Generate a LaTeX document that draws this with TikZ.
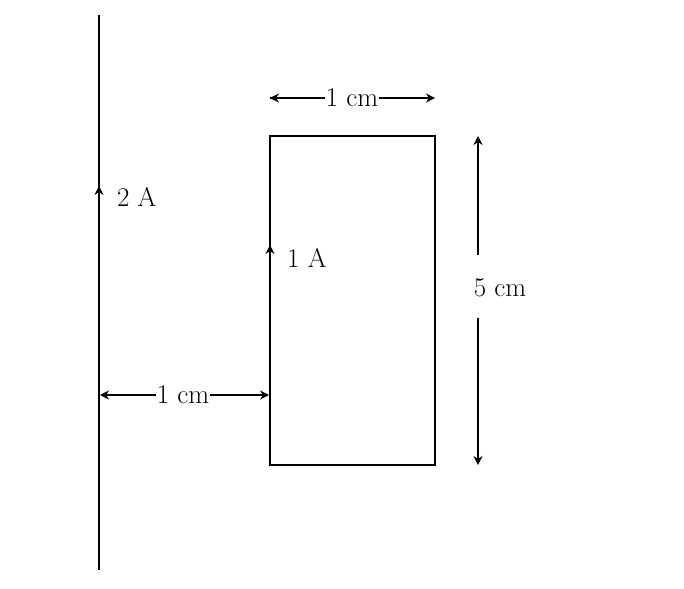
\documentclass[tikz,border=0pt]{standalone}
\usetikzlibrary{arrows.meta}
\begin{document}
\begin{tikzpicture}[x=1pt,y=-1pt,
  wire/.style={line width=2.2pt},
  dim/.style={line width=1.8pt,{Stealth[length=9pt,width=9pt,inset=0pt,open]}-{Stealth[length=9pt,width=9pt,inset=0pt,open]}},
  cur/.style={line width=1.8pt,-{Stealth[length=9pt,width=9pt,open]}},
  lbl/.style={font=\fontsize{27}{30}\selectfont, inner sep=1pt}]
\useasboundingbox (0,0) rectangle (684,588);
\coordinate (wt) at (99,15);
\coordinate (wb) at (99,570);
\draw[wire] (wb) -- (wt);
\coordinate (r1) at (270,136);
\coordinate (r2) at (435,465);
\draw[line width=2pt] (r1) rectangle (r2);
% current arrows
\coordinate (a1) at (99,205); \coordinate (a2) at (99,186);
\draw[cur] (a1) -- (a2);
\node[lbl,anchor=west] (l2a) at (116,197) {2 A};
\coordinate (b1) at (270,264); \coordinate (b2) at (270,245);
\draw[cur] (b1) -- (b2);
\node[lbl,anchor=west] (l1a) at (286,258) {1 A};
% top dimension
\node[lbl] (top) at (352,98) {1 cm};
\coordinate (tl) at (270,98); \coordinate (tr) at (435,98);
\draw[dim,-{}] (top.west) -- (tl);
\draw[-{Stealth[length=9pt,width=9pt,open]},line width=1.8pt] (top.west) -- (tl);
\draw[-{Stealth[length=9pt,width=9pt,open]},line width=1.8pt] (top.east) -- (tr);
% bottom dimension
\node[lbl] (bot) at (183,395) {1 cm};
\coordinate (bl) at (100,395); \coordinate (br) at (269,395);
\draw[-{Stealth[length=9pt,width=9pt,open]},line width=1.8pt] (bot.west) -- (bl);
\draw[-{Stealth[length=9pt,width=9pt,open]},line width=1.8pt] (bot.east) -- (br);
% right dimension
\node[lbl] (rt) at (500,288) {5 cm};
\coordinate (rtop) at (478,136); \coordinate (rbot) at (478,465);
\coordinate (rm1) at (478,255); \coordinate (rm2) at (478,318);
\draw[-{Stealth[length=9pt,width=9pt,open]},line width=1.8pt] (rm1) -- (rtop);
\draw[-{Stealth[length=9pt,width=9pt,open]},line width=1.8pt] (rm2) -- (rbot);
\end{tikzpicture}
\end{document}
